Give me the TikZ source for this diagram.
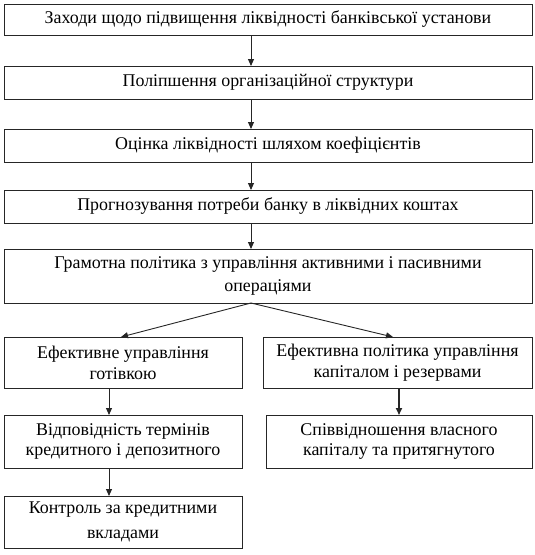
\documentclass[tikz,border=0pt]{standalone}
\usepackage{fontspec}
\setmainfont{Liberation Serif}
\usetikzlibrary{arrows.meta}
\begin{document}
\begin{tikzpicture}[x=1pt,y=-1pt,
  box/.style={draw=black!85,line width=0.9pt,inner sep=0pt,outer sep=0pt,align=center,
    font=\fontsize{17.9}{21}\selectfont},
  arr/.style={draw=black!85,line width=0.9pt,-{Triangle[length=7pt,width=6pt]}}]
\useasboundingbox (0,0) rectangle (535,555);
\node[box,minimum width=528pt,minimum height=31pt] (b1) at (268,19.5) {Заходи щодо підвищення ліквідності банківської установи};
\node[box,minimum width=528pt,minimum height=33pt] (b2) at (268,82.5) {Поліпшення організаційної структури};
\node[box,minimum width=528pt,minimum height=33pt] (b3) at (268,145.5) {Оцінка ліквідності шляхом коефіцієнтів};
\node[box,minimum width=528pt,minimum height=33pt] (b4) at (268,206.5) {Прогнозування потреби банку в ліквідних коштах};
\node[box,minimum width=528pt,minimum height=54pt,font=\fontsize{17.9}{23}\selectfont] (b5) at (268,276) {Грамотна політика з управління активними і пасивними\\операціями};
\node[box,minimum width=238pt,minimum height=51pt] (l1) at (123,362.5) {Ефективне управління\\готівкою};
\node[box,minimum width=269pt,minimum height=51pt] (r1) at (397.5,362.5) {Ефективна політика управління\\капіталом і резервами};
\node[box,minimum width=238pt,minimum height=53pt,font=\fontsize{17.9}{20.5}\selectfont] (l2) at (123,441.5) {Відповідність термінів\\кредитного і депозитного};
\node[box,minimum width=266pt,minimum height=53pt,font=\fontsize{17.9}{20.5}\selectfont] (r2) at (399,441.5) {Співвідношення власного\\капіталу та притягнутого};
\node[box,minimum width=238pt,minimum height=52pt,font=\fontsize{17.9}{25}\selectfont] (l3) at (123,522) {Контроль за кредитними\\вкладами};
\coordinate (ax) at (251,0);
\coordinate (lx) at (109,0);
\coordinate (rx) at (399,0);
\coordinate (lt) at (121,337);
\coordinate (rt) at (393,337);
\draw[arr] (b1.south -| ax) -- (b2.north -| ax);
\draw[arr] (b2.south -| ax) -- (b3.north -| ax);
\draw[arr] (b3.south -| ax) -- (b4.north -| ax);
\draw[arr] (b4.south -| ax) -- (b5.north -| ax);
\draw[arr] (b5.south -| ax) -- (lt);
\draw[arr] (b5.south -| ax) -- (rt);
\draw[arr] (l1.south -| lx) -- (l2.north -| lx);
\draw[arr] (l2.south -| lx) -- (l3.north -| lx);
\draw[arr,line width=1.6pt] (r1.south -| rx) -- (r2.north -| rx);
\end{tikzpicture}
\end{document}
